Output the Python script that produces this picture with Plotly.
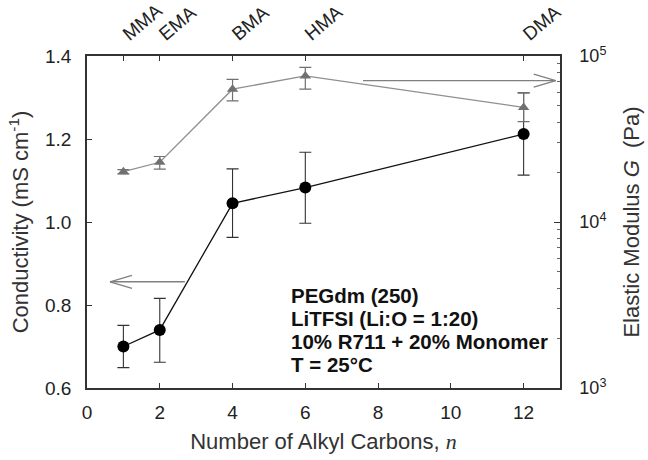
import plotly.graph_objects as go

# ---- data ----
n_carbons = [1, 2, 4, 6, 12]
monomers = ["MMA", "EMA", "BMA", "HMA", "DMA"]
conductivity = [0.700, 0.740, 1.045, 1.083, 1.212]
cond_err_plus = [0.051, 0.076, 0.083, 0.085, 0.099]
cond_err_minus = [0.051, 0.078, 0.082, 0.086, 0.099]
modulus = [20100, 22900, 63100, 75900, 49000]
mod_err_plus = [600, 1900, 9300, 9600, 11100]
mod_err_minus = [600, 2100, 9500, 12800, 8800]
x_ticks = [0, 2, 4, 6, 8, 10, 12]
y_ticks = [0.6, 0.8, 1.0, 1.2, 1.4]
y2_ticks = [1e3, 1e4, 1e5]
y2_labels = ["10<sup>3</sup>", "10<sup>4</sup>", "10<sup>5</sup>"]
y2_minor = [2e3, 3e3, 4e3, 5e3, 6e3, 7e3, 8e3, 9e3,
            2e4, 3e4, 4e4, 5e4, 6e4, 7e4, 8e4, 9e4]
notes = ["PEGdm (250)", "LiTFSI (Li:O = 1:20)", "10% R711 + 20% Monomer", "T = 25°C"]

FONT = "Arial, Liberation Sans, sans-serif"
AX = "#333333"
GRAY = "#808080"

fig = go.Figure()

fig.add_trace(go.Scatter(
    x=n_carbons, y=modulus, xaxis="x", yaxis="y2", mode="lines+markers",
    line=dict(color="#8f8f8f", width=1.3),
    marker=dict(symbol="triangle-up", size=10, color="#707070"),
    error_y=dict(type="data", symmetric=False, array=mod_err_plus, arrayminus=mod_err_minus,
                 color="#707070", thickness=1.2, width=6),
    showlegend=False))

fig.add_trace(go.Scatter(
    x=n_carbons, y=conductivity, xaxis="x", yaxis="y", mode="lines+markers",
    line=dict(color="#111111", width=1.3),
    marker=dict(symbol="circle", size=12, color="#000000"),
    error_y=dict(type="data", symmetric=False, array=cond_err_plus, arrayminus=cond_err_minus,
                 color="#333333", thickness=1.1, width=6),
    showlegend=False))

# invisible trace to activate top axis
fig.add_trace(go.Scatter(x=n_carbons, y=conductivity, xaxis="x2", yaxis="y",
                         mode="markers", marker=dict(opacity=0), hoverinfo="skip",
                         showlegend=False))

fig.update_layout(
    width=648, height=460,
    margin=dict(l=87, r=88, t=56, b=72),
    paper_bgcolor="white", plot_bgcolor="white",
    font=dict(family=FONT, size=19, color="#222222"),
    xaxis=dict(range=[0, 13], tickvals=x_ticks, ticks="inside", ticklen=5,
               tickcolor=AX, showline=True, linecolor=AX, linewidth=1.5,
               showgrid=False, zeroline=False, ticklabelstandoff=6, automargin=False,
               tickfont=dict(size=19),
               title=dict(text="Number of Alkyl Carbons, <span style='font-family:Liberation Serif, Times New Roman, serif'><i>n</i></span>",
                          font=dict(size=22, color="#333333"), standoff=12)),
    xaxis2=dict(range=[0, 13], overlaying="x", side="top", tickvals=n_carbons,
                ticktext=monomers, tickangle=-40, ticks="inside", ticklen=5,
                tickcolor=AX, showline=True, linecolor=AX, linewidth=1.5, automargin=False,
                showgrid=False, zeroline=False, tickfont=dict(size=19), ticklabelstandoff=3),
    yaxis=dict(range=[0.6, 1.4], tickvals=y_ticks, tickformat=".1f", ticks="inside",
               ticklen=5, tickcolor=AX, showline=True, linecolor=AX, linewidth=1.5,
               showgrid=False, zeroline=False, ticklabelstandoff=10, automargin=False,
               tickfont=dict(size=19),
               title=dict(text="Conductivity (mS cm<sup>-1</sup>)", font=dict(size=22, color="#333333"), standoff=10)),
    yaxis2=dict(type="log", range=[3, 5], overlaying="y", side="right",
                tickvals=y2_ticks, ticktext=y2_labels, ticks="inside", ticklen=6,
                tickcolor=AX, showline=True, linecolor=AX, linewidth=1.5, automargin=False,
                showgrid=False, zeroline=False, ticklabelstandoff=14,
                tickfont=dict(size=18),
                minor=dict(ticks="inside", ticklen=3, tickcolor="#666666", tickvals=y2_minor),
                title=dict(text="Elastic Modulus <i>G</i>  (Pa)", font=dict(size=22, color="#333333"), standoff=18)),
)

# arrows (open chevron heads) in paper coordinates
def arrow(x_tail, x_tip, y, head_dx, head_dy):
    fig.add_shape(type="line", xref="paper", yref="paper", x0=x_tail, x1=x_tip, y0=y, y1=y,
                  line=dict(color=GRAY, width=1.3))
    for s in (1, -1):
        fig.add_shape(type="line", xref="paper", yref="paper", x0=x_tip, y0=y,
                      x1=x_tip + head_dx, y1=y + s * head_dy,
                      line=dict(color=GRAY, width=1.3))

pw, ph = 473.0, 332.0
arrow(0.5835, 0.991, 0.9256, -22 / pw, 6.5 / ph)
arrow(0.207, 0.0486, 0.320, 22 / pw, 6.5 / ph)

# text block
for i, t in enumerate(notes):
    fig.add_annotation(xref="paper", yref="paper", x=(289 - 87) / pw,
                       y=(388 - (295 + 23.3 * i)) / ph, xanchor="left", yanchor="middle",
                       text="<b>" + t + "</b>", showarrow=False,
                       font=dict(size=20.5, color="#111111", family=FONT))

fig.write_html("out.html")
